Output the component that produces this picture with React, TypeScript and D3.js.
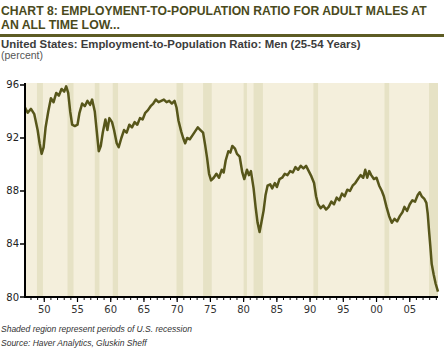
import React, { useLayoutEffect, useRef } from "react";
import * as d3 from "d3";

// year (decimal) and ratio
const years = [
  1947.1, 1947.5, 1948.0, 1948.5, 1949.0, 1949.3, 1949.6, 1949.9, 1950.2, 1950.6,
  1951.0, 1951.4, 1951.8, 1952.2, 1952.6, 1953.0, 1953.3, 1953.6, 1953.9, 1954.2,
  1954.6, 1955.0, 1955.3, 1955.7, 1956.1, 1956.5, 1956.9, 1957.2, 1957.6, 1957.9,
  1958.2, 1958.5, 1958.8, 1959.2, 1959.5, 1959.8, 1960.2, 1960.5, 1960.9, 1961.2,
  1961.6, 1962.0, 1962.4, 1962.8, 1963.2, 1963.6, 1964.0, 1964.4, 1964.8, 1965.2,
  1965.6, 1966.0, 1966.4, 1966.8, 1967.2, 1967.6, 1968.0, 1968.4, 1968.8, 1969.2,
  1969.6, 1969.9, 1970.2, 1970.6, 1970.9, 1971.2, 1971.5, 1971.9, 1972.3, 1972.7,
  1973.1, 1973.5, 1973.9, 1974.2, 1974.5, 1974.8, 1975.1, 1975.5, 1975.9, 1976.3,
  1976.7, 1977.0, 1977.3, 1977.7, 1978.0, 1978.3, 1978.7, 1979.0, 1979.4, 1979.8,
  1980.1, 1980.5, 1980.8, 1981.1, 1981.5, 1981.8, 1982.1, 1982.4, 1982.7, 1983.0,
  1983.3, 1983.6, 1984.0, 1984.3, 1984.7, 1985.0, 1985.4, 1985.8, 1986.2, 1986.6,
  1987.0, 1987.4, 1987.8, 1988.2, 1988.6, 1989.0, 1989.4, 1989.8, 1990.2, 1990.6,
  1990.9, 1991.2, 1991.6, 1992.0, 1992.4, 1992.8, 1993.2, 1993.6, 1994.0, 1994.4,
  1994.8, 1995.2, 1995.6, 1996.0, 1996.4, 1996.8, 1997.2, 1997.6, 1998.0, 1998.3,
  1998.6, 1998.9, 1999.2, 1999.6, 2000.0, 2000.4, 2000.8, 2001.1, 2001.5, 2001.9,
  2002.3, 2002.7, 2003.1, 2003.5, 2003.9, 2004.2, 2004.6, 2005.0, 2005.4, 2005.8,
  2006.2, 2006.5, 2006.8, 2007.2, 2007.5, 2007.7, 2007.9, 2008.1, 2008.3, 2008.6,
  2008.9, 2009.25,
];
const ratio = [
  94.3, 93.9, 94.2, 93.8, 92.6, 91.6, 90.8, 91.3, 92.8, 94.0,
  95.0, 94.7, 95.4, 95.2, 95.7, 95.5, 95.9, 95.4, 94.0, 93.0,
  92.9, 93.0, 93.9, 94.6, 94.4, 94.8, 94.5, 94.9, 94.0, 92.5,
  91.0, 91.4, 92.4, 93.4, 92.6, 93.5, 93.2, 92.6, 91.6, 91.3,
  92.0, 92.6, 92.4, 93.0, 92.8, 93.2, 93.0, 93.5, 93.4, 93.9,
  94.1, 94.4, 94.6, 94.9, 94.7, 94.8, 94.9, 94.7, 94.8, 94.6,
  94.8, 94.3, 93.3, 92.5, 92.0, 91.6, 92.0, 91.9, 92.2, 92.5,
  92.8, 92.6, 92.4, 91.5, 90.5, 89.3, 88.8, 89.0, 89.3, 89.0,
  89.6, 89.4, 90.3, 91.0, 90.9, 91.4, 91.2, 90.8, 90.6, 89.4,
  88.9, 89.6, 89.2, 89.5, 88.2, 86.8, 85.6, 84.9, 85.7, 86.5,
  87.7, 88.4, 88.5, 88.2, 88.6, 88.3, 88.9, 89.0, 89.3, 89.2,
  89.5, 89.4, 89.8, 89.6, 89.9, 89.7, 89.9, 89.5, 89.1, 88.6,
  87.6, 87.0, 86.7, 86.9, 86.6, 86.8, 87.2, 87.0, 87.5, 87.3,
  87.8, 87.6, 88.1, 88.0, 88.4, 88.6, 88.9, 89.2, 89.0, 89.6,
  89.0, 89.5, 89.2, 88.9, 89.0, 88.4, 88.0, 87.6, 86.8, 86.1,
  85.6, 85.9, 85.7, 86.1, 86.4, 86.8, 86.5, 87.0, 87.3, 87.2,
  87.7, 87.9, 87.6, 87.4, 87.1, 86.3, 85.0, 83.8, 82.5, 81.7,
  81.0, 80.4,
];

// recession periods (start, end)
const recessionStart = [1948.9, 1953.5, 1957.6, 1960.3, 1969.9, 1973.9, 1980.0, 1981.5, 1990.5, 2001.2, 2007.9];
const recessionEnd = [1949.8, 1954.4, 1958.3, 1961.1, 1970.9, 1975.2, 1980.5, 1982.9, 1991.2, 2001.9, 2009.25];

const yTicks = [80, 84, 88, 92, 96];
const xMajor = [1950, 1955, 1960, 1965, 1970, 1975, 1980, 1985, 1990, 1995, 2000, 2005];

const W = 444;
const H = 351;
const left = 25;
const right = 438;
const top = 83;
const bottom = 297;

const olive = "#57561a";

// squeeze a text horizontally so it spans the given width
function FitText({ x, y, width, children, ...rest }: any) {
  const ref = useRef<SVGTextElement>(null);
  useLayoutEffect(() => {
    const el = ref.current;
    if (!el) return;
    const w = el.getComputedTextLength();
    const s = w > 0 ? width / w : 1;
    el.setAttribute("transform", `translate(${x},${y}) scale(${s},1)`);
  }, [x, y, width]);
  return (
    <text ref={ref} x={0} y={0} transform={`translate(${x},${y})`} {...rest}>
      {children}
    </text>
  );
}

export default function App() {
  const x = d3.scaleLinear().domain([1947.1, 2009.25]).range([left, right]);
  const y = d3.scaleLinear().domain([80, 96.15]).range([bottom, top]);

  const pts = years.map((yr, i) => [yr, ratio[i]] as [number, number]);
  const line = d3
    .line<[number, number]>()
    .x((d) => x(d[0]))
    .y((d) => y(d[1]));

  const minor = d3.range(1948, 2010);

  return (
    <svg
      width={W}
      height={H}
      style={{ position: "absolute", left: 0, top: 0, background: "#fff" }}
      fontFamily="Liberation Sans, Arial, sans-serif"
    >
      {/* title */}
      <FitText x={1} y={14.5} width={426} fontSize={13.5} fontWeight="bold" fill="#4a4a1c">
        CHART 8: EMPLOYMENT-TO-POPULATION RATIO FOR ADULT MALES AT
      </FitText>
      <FitText x={1} y={29} width={119} fontSize={13.5} fontWeight="bold" fill="#4a4a1c">
        AN ALL TIME LOW...
      </FitText>
      <rect x={0} y={34} width={W} height={3} fill="#5d5c24" />
      <FitText x={1} y={48} width={360} fontSize={11} fontWeight="bold" fill="#3c3c3c">
        United States: Employment-to-Population Ratio: Men (25-54 Years)
      </FitText>
      <text x={1} y={59} fontSize={10.5} fill="#555">
        (percent)
      </text>

      {/* plot background */}
      <rect x={left} y={top} width={right - left} height={bottom - top} fill="#f4efdc" />
      {recessionStart.map((s, i) => (
        <rect
          key={"r" + i}
          x={x(s)}
          y={top}
          width={x(recessionEnd[i]) - x(s)}
          height={bottom - top}
          fill="#e6e2c5"
        />
      ))}

      {/* line */}
      <path d={line(pts) || ""} fill="none" stroke={olive} strokeWidth={2.5} strokeLinejoin="round" />

      {/* y axis */}
      <line x1={left} x2={left} y1={top} y2={bottom + 1} stroke="#000" strokeWidth={2} />
      {yTicks.map((t) => (
        <g key={"y" + t}>
          <line x1={left - 5} x2={left} y1={y(t)} y2={y(t)} stroke="#000" strokeWidth={1.5} />
          <text x={left - 6} y={y(t) + 3.5} fontSize={10} textAnchor="end" fill="#222" fontFamily="DejaVu Sans, sans-serif">
            {t}
          </text>
        </g>
      ))}

      {/* x axis */}
      <line x1={left - 1} x2={right} y1={bottom} y2={bottom} stroke="#000" strokeWidth={2} />
      {minor.map((t) => (
        <line key={"m" + t} x1={x(t)} x2={x(t)} y1={bottom} y2={bottom + 3} stroke="#000" strokeWidth={1} />
      ))}
      {xMajor.map((t) => (
        <g key={"x" + t}>
          <line x1={x(t)} x2={x(t)} y1={bottom} y2={bottom + 5} stroke="#000" strokeWidth={1.2} />
          <text x={x(t)} y={313} fontSize={10} textAnchor="middle" fill="#333" fontFamily="DejaVu Sans, sans-serif">
            {String(t % 100).padStart(2, "0")}
          </text>
        </g>
      ))}

      {/* footnotes */}
      <text x={1} y={332} fontSize={8.5} fontStyle="italic" fill="#333">
        Shaded region represent periods of U.S. recession
      </text>
      <text x={1} y={346} fontSize={8.5} fontStyle="italic" fill="#333">
        Source: Haver Analytics, Gluskin Sheff
      </text>
    </svg>
  );
}
